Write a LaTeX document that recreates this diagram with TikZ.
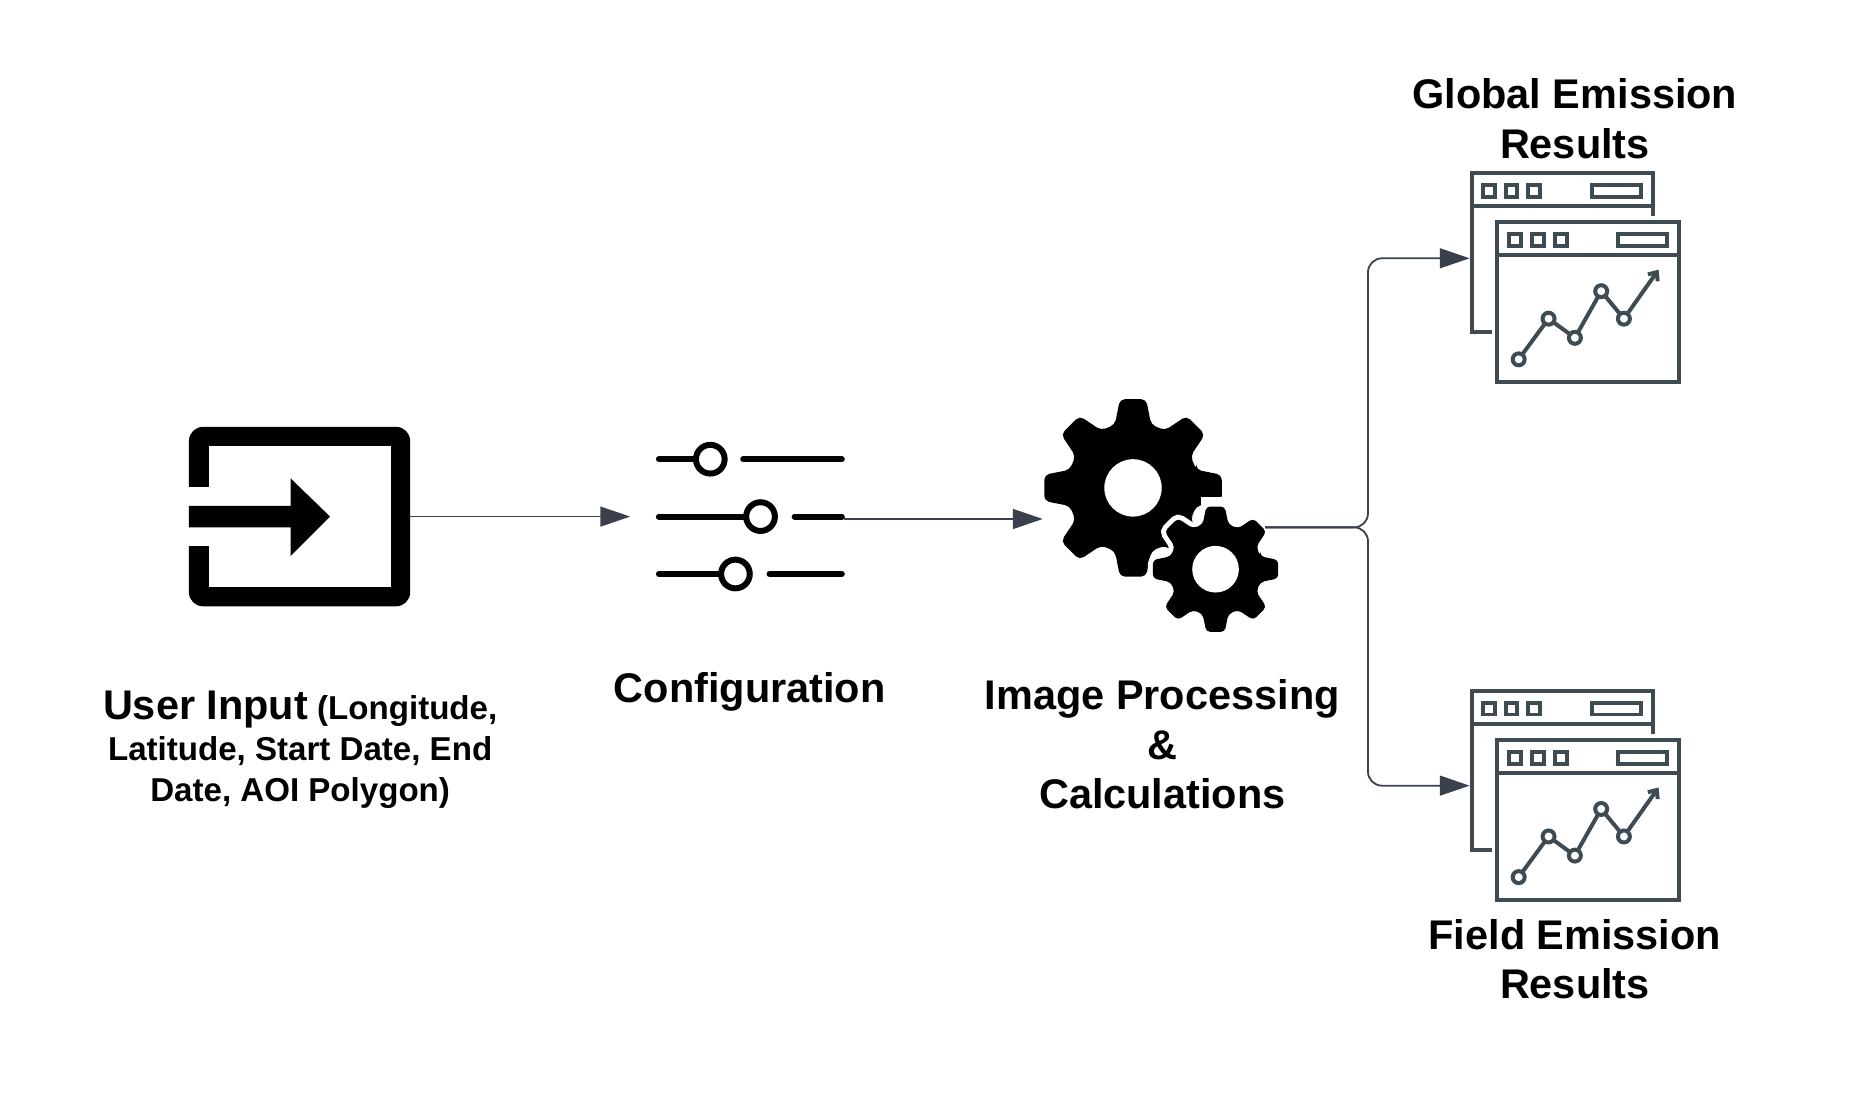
\documentclass[tikz,border=0pt]{standalone}
\usepackage{fontspec}
\setmainfont{Liberation Sans}
\usetikzlibrary{arrows.meta}
\definecolor{flowcol}{HTML}{3A414C}
\definecolor{wincol}{HTML}{3F4B52}

% gear outline: root radius, tip radius
\newcommand{\gearpath}[2]{
    ({-16}:#1) \foreach \a in {0,45,...,315} {
        -- ({\a-16}:#1) -- ({\a-8.4}:#2) -- ({\a+8.4}:#2) -- ({\a+16}:#1)
    } -- cycle
}

\tikzset{
    flow/.style={draw=flowcol, line width=0.9pt, -{Triangle[length=15pt, width=10pt]}},
    captxt/.style={font=\bfseries\fontsize{20.8}{24.9}\selectfont, align=center, inner sep=0pt},
    iconbox/.style={inner sep=0pt, outer sep=0pt},
    slider/.style={line width=3pt, line cap=round},
    knob/.style={line width=3pt, draw=black, fill=white},
    winline/.style={draw=wincol, line width=2pt},
    results/.pic={
        % back window
        \draw[winline] (151,36) -- (151,0) -- (0,0) -- (0,133) -- (17,133);
        \draw[winline] (0,28) -- (151,28);
        \foreach \x in {9,28,47} {
            \draw[winline] (\x,10) rectangle ++(10,10);
        }
        \draw[winline] (100,10) rectangle (141,20);
        % front window
        \draw[winline] (21,41) rectangle (173,175);
        \draw[winline] (21,69) -- (173,69);
        \foreach \x in {31,50,69} {
            \draw[winline] (\x,51) rectangle ++(10,10);
        }
        \draw[winline] (122,51) rectangle (163,61);
        % chart
        \draw[winline, -{Straight Barb[length=3.5pt, width=6pt]}] (39,156) -- (64,122) -- (86,138) -- (108,99) -- (127,122) -- (156,81);
        \foreach \x/\y in {39/156, 64/122, 86/138, 108/99, 127/122} {
            \draw[winline, fill=white] (\x,\y) circle (5);
        }
    }
}

\begin{document}
\begin{tikzpicture}[x=0.6pt, y=-0.6pt]
    \useasboundingbox (0,0) rectangle (1568,922.4);

    % user input icon
    \node[iconbox, minimum width=111pt, minimum height=90pt] (input) at (250.5,432) {};
    \fill[rounded corners=7pt] (158,357) rectangle (343,507);
    \fill[white] (175,373) rectangle (327,491);
    \fill[white] (157,407) rectangle (176,457);
    \fill (158,423) -- (243,423) -- (243,400) -- (276,432) -- (243,465) -- (243,441) -- (158,441) -- cycle;

    % sliders
    \node[iconbox, minimum width=107.4pt, minimum height=70pt] (config) at (616.5,432) {};
    \foreach \y/\k/\r in {384/594/621.5, 432/636/664.5, 480/615/643.5} {
        \draw[slider] (551,\y) -- (\k,\y);
        \draw[slider] (\r,\y) -- (704,\y);
        \draw[knob] (\k,\y) circle (12);
    }
    \coordinate (configout) at (706,434);

    % gears
    \node[iconbox] (biggear) at (947.5,408) {};
    \node[iconbox] (smallgear) at (1016.5,476) {};
    \coordinate (gearin) at (872,434);
    \coordinate (gearout) at (1058,441);
    \begin{scope}[shift={(biggear)}]
        \fill[rounded corners=2.5pt] \gearpath{55}{75};
        \fill[white] (0,0) circle (24);
    \end{scope}
    \fill[white] (1004,415.5) rectangle (1026,426);
    \begin{scope}[shift={(smallgear)}]
        \filldraw[draw=white, line width=5pt, rounded corners=2pt] \gearpath{39}{53};
        \fill[rounded corners=2pt] \gearpath{39}{53};
        \fill[white] (0,0) circle (19.5);
    \end{scope}

    % result windows
    \pic at (1231,144.5) {results};
    \pic at (1231,577.5) {results};
    \coordinate (globalin) at (1229,216);
    \coordinate (fieldin) at (1229,657);
    \coordinate (bus) at (1144,441);

    % connectors
    \draw[flow] (input.east) -- (config.west);
    \draw[flow] (configout) -- (gearin);
    \draw[flow, rounded corners=7pt] (gearout) -- (bus) |- (globalin);
    \draw[flow, rounded corners=7pt] (gearout) -- (bus) |- (fieldin);

    % labels
    \node[captxt] (globallabel) at (1317,99.5) {Global Emission\\Results};
    \node[captxt] (fieldlabel) at (1317,802) {Field Emission\\Results};
    \node[captxt] (configlabel) at (627,578.5) {Configuration};
    \node[captxt] (gearslabel) at (972,622.5) {Image Processing\\\&\\Calculations};
    \node[captxt, font=\bfseries\fontsize{16.6}{20.8}\selectfont] (inputlabel) at (251,627) {{\fontsize{20.8}{20.8}\selectfont User Input} (Longitude,\\Latitude, Start Date, End\\Date, AOI Polygon)};
\end{tikzpicture}
\end{document}
